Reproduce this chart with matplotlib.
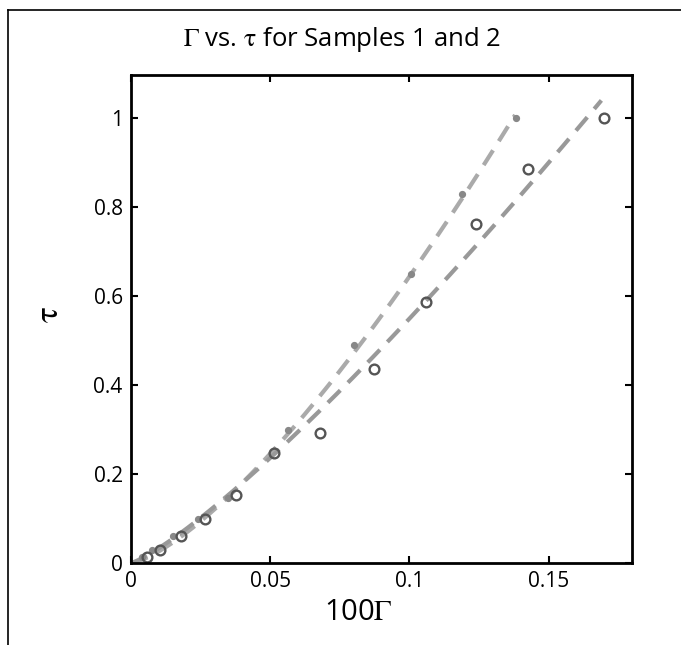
import numpy as np
import matplotlib
matplotlib.use('Agg')
import matplotlib.pyplot as plt
from matplotlib.lines import Line2D

plt.rcParams['font.family'] = ['Open Sans', 'DejaVu Sans']
plt.rcParams['mathtext.fontset'] = 'stix'

# Sample 1 (filled dots)
x1 = [0.004, 0.0075, 0.015, 0.024, 0.035, 0.0565, 0.080, 0.1005, 0.119, 0.1385]
y1 = [0.013, 0.030, 0.060, 0.100, 0.145, 0.300, 0.490, 0.650, 0.830, 1.000]
# Sample 2 (open circles)
x2 = [0.0058, 0.0104, 0.018, 0.0266, 0.0378, 0.0514, 0.068, 0.0874, 0.106, 0.124, 0.1425, 0.170]
y2 = [0.013, 0.029, 0.061, 0.099, 0.152, 0.247, 0.292, 0.436, 0.587, 0.762, 0.885, 1.000]

# power-law fits y = a * x**b
fit1 = (15.8, 1.39, 0.138)   # a, b, x end
fit2 = (9.05, 1.217, 0.169)

fig = plt.figure(figsize=(6.81, 6.45), dpi=100)
ax = fig.add_axes([131 / 681, 82 / 645, 501 / 681, 488 / 645])

for (a, b, xe), col in [(fit1, '#aaaaaa'), (fit2, '#999999')]:
    xs = np.linspace(0, xe, 200)
    ax.plot(xs, a * xs ** b, color=col, lw=3, dashes=(4.2, 2.6))

ax.plot(x1, y1, 'o', color='#888888', ms=4.2, mec='#888888')
ax.plot(x2, y2, 'o', mfc='none', mec='#555555', ms=7, mew=1.7)

ax.set_xlim(0, 0.18)
ax.set_ylim(0, 1.097)
ax.set_xticks([0, 0.05, 0.1, 0.15])
ax.set_xticklabels(['0', '0.05', '0.1', '0.15'])
ax.set_yticks([0, 0.2, 0.4, 0.6, 0.8, 1])
ax.set_yticklabels(['0', '0.2', '0.4', '0.6', '0.8', '1'])
ax.tick_params(direction='in', top=True, right=True, length=5, width=1.5,
               labelsize=15, pad=6)
for s in ax.spines.values():
    s.set_linewidth(2)

fig.text(342 / 681, 1 - 40 / 645, r'$\Gamma$ vs. $\mathrm{\tau}$ for Samples 1 and 2',
         ha='center', va='center', fontsize=18.5)
fig.text(358 / 681, 1 - 612 / 645, r'100$\Gamma$', ha='center', va='center', fontsize=21)
fig.text(50 / 681, 1 - 315 / 645, r'$\mathrm{\tau}$', ha='center', va='center',
         fontsize=24, rotation=90)

# outer frame
fig.add_artist(Line2D([8 / 681, 8 / 681], [0, 1 - 10 / 645], color='black', lw=1.2,
                      transform=fig.transFigure))
fig.add_artist(Line2D([8 / 681, 1], [1 - 10 / 645, 1 - 10 / 645], color='black', lw=1.2,
                      transform=fig.transFigure))

fig.savefig('out.png', dpi=100)
